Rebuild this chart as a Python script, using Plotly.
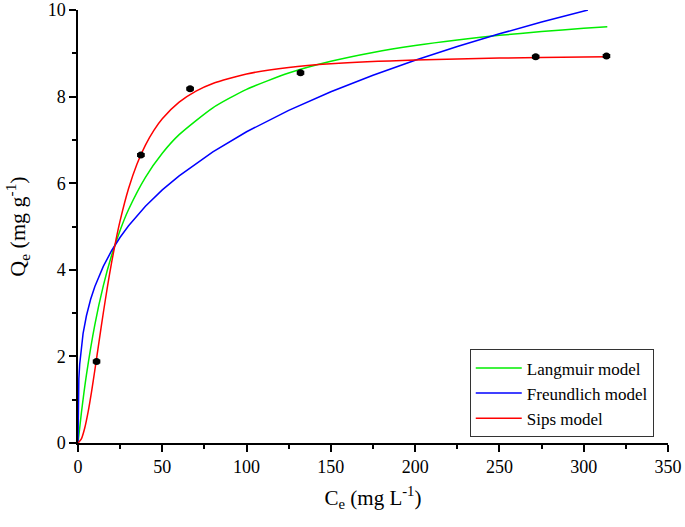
import plotly.graph_objects as go

# experimental points (Ce, Qe)
ce_exp = [11.0, 37.3, 66.5, 132.0, 271.5, 313.5]
qe_exp = [1.88, 6.65, 8.18, 8.55, 8.92, 8.94]
ce_err = [1.8, 1.8, 1.8, 1.8, 1.8, 1.8]

# model curves
c_lang = [0, 2, 5, 10, 15, 20, 25, 30, 40, 50, 60, 80, 100, 125, 150, 175, 200, 225, 250, 275, 300, 314]
q_lang = [0, 0.692, 1.574, 2.736, 3.630, 4.340, 4.915, 5.393, 6.137, 6.692, 7.121, 7.741, 8.168,
          8.545, 8.816, 9.021, 9.181, 9.309, 9.414, 9.502, 9.577, 9.613]

c_freu = [0, 0.05, 0.2, 0.5, 1, 2, 3, 5, 7.5, 10, 15, 20, 25, 30, 40, 50, 60, 80, 100, 125, 150,
          175, 200, 225, 250, 275, 302.5]
q_freu = [0, 0.744, 1.125, 1.478, 1.818, 2.236, 2.524, 2.939, 3.318, 3.615, 4.080, 4.446, 4.752,
          5.018, 5.468, 5.845, 6.171, 6.725, 7.188, 7.683, 8.112, 8.494, 8.839, 9.157, 9.450, 9.721, 10.0]

c_sips = [0, 2, 4, 6, 8, 10, 12.5, 15, 17.5, 20, 22.5, 25, 30, 35, 40, 45, 50, 60, 70, 80, 100, 125,
          150, 200, 250, 300, 314]
q_sips = [0, 0.094, 0.345, 0.717, 1.175, 1.686, 2.348, 3.002, 3.618, 4.181, 4.686, 5.135, 5.876,
          6.444, 6.881, 7.221, 7.488, 7.871, 8.126, 8.302, 8.523, 8.673, 8.759, 8.847, 8.889, 8.913, 8.918]

font = "Liberation Serif, serif"

fig = go.Figure()

fig.add_trace(go.Scatter(x=c_lang, y=q_lang, mode='lines', name='Langmuir model',
                         line=dict(color='#00ee00', width=1.5, shape='spline', smoothing=0.6)))
fig.add_trace(go.Scatter(x=c_freu, y=q_freu, mode='lines', name='Freundlich model',
                         line=dict(color='#0000ff', width=1.5)))
fig.add_trace(go.Scatter(x=c_sips, y=q_sips, mode='lines', name='Sips model',
                         line=dict(color='#ff0000', width=1.5, shape='spline', smoothing=0.6)))

fig.add_trace(go.Scatter(x=ce_exp, y=qe_exp, mode='markers', showlegend=False,
                         marker=dict(color='black', size=7),
                         error_x=dict(type='data', array=ce_err, color='black', thickness=1.5, width=2)))

axis_common = dict(
    showline=True, linecolor='black', linewidth=1.5,
    ticks='outside', ticklen=7, tickwidth=1.5, tickcolor='black',
    showgrid=False, zeroline=False, mirror=False, automargin=False,
    tickfont=dict(family=font, size=18, color='black'),
)

fig.update_xaxes(range=[0, 350], dtick=50, tick0=0,
                 minor=dict(dtick=25, ticks='outside', ticklen=4, tickwidth=1.5, tickcolor='black'),
                 title=dict(text="C<sub>e</sub> (mg L<sup>-1</sup>)", font=dict(family=font, size=21, color='black'),
                            standoff=14),
                 **axis_common)
fig.update_yaxes(range=[0, 10], dtick=2, tick0=0,
                 minor=dict(dtick=1, ticks='outside', ticklen=4, tickwidth=1.5, tickcolor='black'),
                 title=dict(text="Q<sub>e</sub> (mg g<sup>-1</sup>)", font=dict(family=font, size=22, color='black'),
                            standoff=16),
                 **axis_common)

fig.update_layout(
    width=685, height=527,
    margin={"l": 78, "r": 17, "t": 10, "b": 84},
    plot_bgcolor='white', paper_bgcolor='white',
    font=dict(family=font),
    legend=dict(x=0.664, y=0.216, xanchor='left', yanchor='top',
                bordercolor='#333333', borderwidth=1, bgcolor='white',
                font=dict(family=font, size=17, color='black'),
                tracegroupgap=0, itemwidth=46),
)

fig.write_html("out.html", config={"displayModeBar": False},
               post_script="document.body.style.margin='0';")
